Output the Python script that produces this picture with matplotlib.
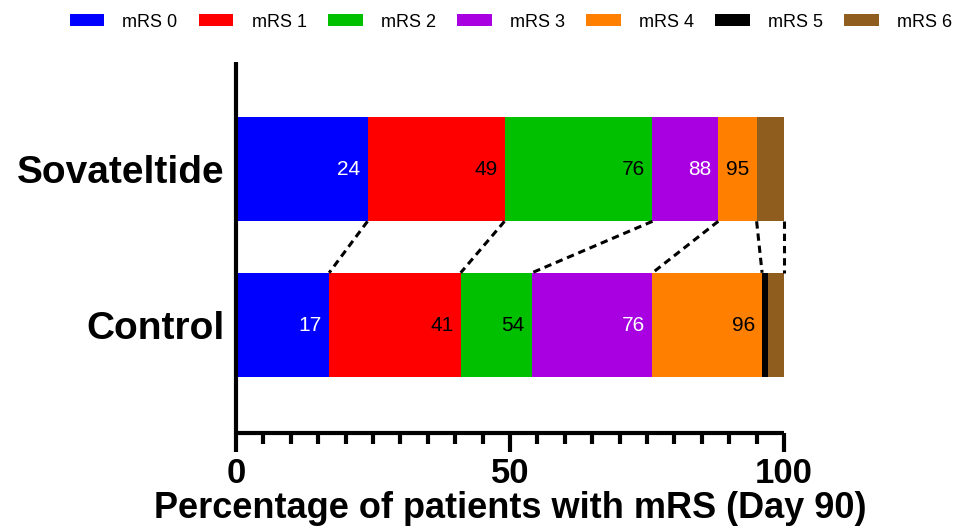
import numpy as np
import matplotlib
matplotlib.use("Agg")
import matplotlib.pyplot as plt
from matplotlib.patches import Patch

groups = ["Control", "Sovateltide"]
categories = ["mRS 0", "mRS 1", "mRS 2", "mRS 3", "mRS 4", "mRS 5", "mRS 6"]
colors = ["#0000FF", "#FF0000", "#00C000", "#A800E0", "#FF8000", "#000000", "#8F5E1F"]
label_colors = ["white", "black", "black", "white", "black", None, None]

# percentage of patients in each mRS grade
control = [17, 24, 13, 22, 20, 1, 3]
sovateltide = [24, 25, 27, 12, 7, 0, 5]

narrow = ["Liberation Sans Narrow", "DejaVu Sans Condensed", "Liberation Sans", "DejaVu Sans"]
bold_font = ["Liberation Sans", "DejaVu Sans"]

fig = plt.figure(figsize=(9.64, 5.30), dpi=100)
ax = fig.add_axes([0.2448, 0.183, 0.5685, 0.70])

h = 0.67
data = {"Control": control, "Sovateltide": sovateltide}
cums = {}
for yi, g in enumerate(groups):
    vals = np.array(data[g], dtype=float)
    cum = np.cumsum(vals)
    cums[g] = cum
    left = cum - vals
    ax.barh(yi, vals, left=left, height=h, color=colors, linewidth=0)
    for k in range(5):
        ax.text(cum[k] - 1.3, yi, "%d" % round(cum[k]), ha="right", va="center",
                fontsize=15, color=label_colors[k], family=narrow)

# dashed connectors between boundaries
c_ctrl = cums["Control"]
c_sov = cums["Sovateltide"]
pairs = [(c_sov[k], c_ctrl[k]) for k in range(5)] + [(c_sov[6], c_ctrl[6])]
for xs, xc in pairs:
    ax.plot([xs, xc], [1 - h / 2, h / 2], ls=(0, (2.4, 1.6)), color="black", lw=2.2,
            dash_capstyle="butt", zorder=1, clip_on=False)

ax.set_xlim(0, 100)
ax.set_ylim(-0.692, 1.686)
ax.set_yticks([0, 1])
ax.set_yticklabels(groups, fontsize=28, fontweight="bold", family=bold_font)
ax.set_xticks([0, 50, 100])
ax.set_xticklabels(["0", "50", "100"], fontsize=25, fontweight="bold", family=bold_font)
ax.set_xticks(np.arange(0, 101, 5), minor=True)
ax.tick_params(axis="x", which="major", length=14, width=3, pad=3, direction="out")
ax.tick_params(axis="x", which="minor", length=8, width=3, direction="out")
ax.tick_params(axis="y", length=0, pad=8)
for s in ["top", "right"]:
    ax.spines[s].set_visible(False)
for s in ["left", "bottom"]:
    ax.spines[s].set_linewidth(3)
    ax.spines[s].set_capstyle("butt")

ax.set_xlabel("Percentage of patients with mRS (Day 90)", fontsize=26, fontweight="bold",
              family=bold_font, labelpad=1)

handles = [Patch(facecolor=c, edgecolor="none") for c in colors]
fig.legend(handles, categories, loc="upper center", bbox_to_anchor=(0.53, 1.005), ncol=7,
           frameon=False, prop={"family": narrow, "size": 13}, handlelength=1.9,
           handleheight=0.66, handletextpad=1.0, columnspacing=1.2)

fig.savefig("out.png", dpi=100)
